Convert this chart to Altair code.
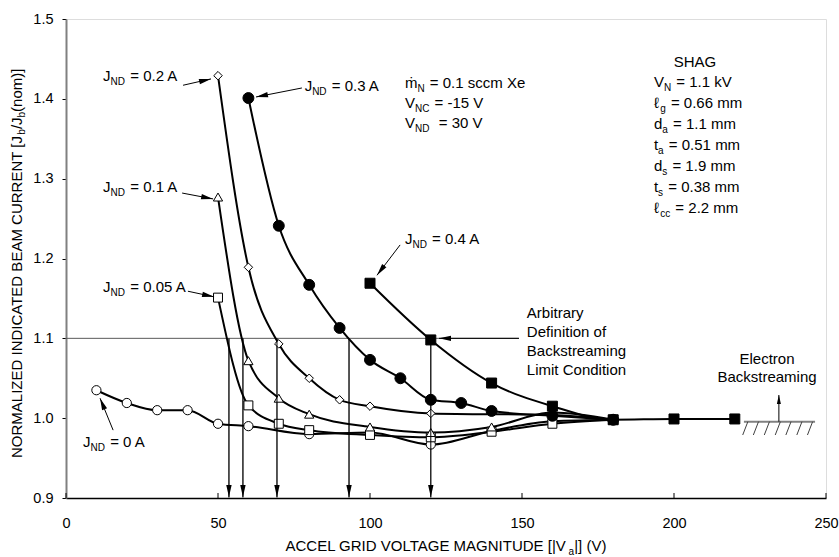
import math
import re
import altair as alt
import pandas as pd

# ---------------- data ----------------
X_TICKS = [0, 50, 100, 150, 200, 250]
Y_TICKS = [0.9, 1.0, 1.1, 1.2, 1.3, 1.4, 1.5]

x_j0 = [10, 20, 30, 40, 50, 60, 80, 100, 120, 140, 160, 180]
y_j0 = [1.035, 1.019, 1.010, 1.010, 0.993, 0.990, 0.980, 0.982, 0.967, 0.984, 0.996, 0.998]

x_j005 = [50, 60, 70, 80, 100, 120, 140, 160, 180]
y_j005 = [1.151, 1.016, 0.993, 0.985, 0.979, 0.976, 0.983, 0.993, 0.998]

x_j01 = [50, 60, 70, 80, 100, 120, 140, 160, 180]
y_j01 = [1.277, 1.072, 1.025, 1.005, 0.989, 0.982, 0.989, 1.007, 0.998]

x_j02 = [50, 60, 70, 80, 90, 100, 120, 160, 180]
y_j02 = [1.429, 1.189, 1.093, 1.050, 1.023, 1.015, 1.006, 1.004, 0.998]

x_j03 = [60, 70, 80, 90, 100, 110, 120, 130, 140, 160, 180]
y_j03 = [1.401, 1.241, 1.167, 1.113, 1.073, 1.050, 1.023, 1.019, 1.009, 1.003, 0.998]

x_j04 = [100, 120, 140, 160, 180, 200, 220]
y_j04 = [1.169, 1.098, 1.044, 1.015, 0.998, 0.999, 0.999]

limit_level = 1.1
limit_crossings = [53.6, 58.2, 69.4, 93.1, 120]

# ---------------- geometry helpers ----------------
W, H = 760, 479
XD = [0, 250]
YD = [0.9, 1.5]
SX = W / (XD[1] - XD[0])
SY = H / (YD[1] - YD[0])
FONT = "Liberation Sans, Arial, sans-serif"
FS, SUB, SUBDY = 15, 10, 4

CW = {' ': 278, '=': 584, '.': 278, '-': 333, '[': 278, ']': 278, '(': 333, ')': 333,
      '|': 260, '/': 278, 'ṁ': 833, 'ℓ': 417}
for c in '0123456789':
    CW[c] = 556
CW.update(dict(A=667, B=667, C=722, D=722, E=667, F=611, G=778, H=722, I=278, J=500, K=667,
               L=556, M=833, N=722, O=778, P=667, Q=778, R=722, S=667, T=611, U=722, V=667,
               W=944, X=667, Y=667, Z=611))
CW.update(dict(a=556, b=556, c=500, d=556, e=556, f=278, g=556, h=556, i=222, j=222, k=500,
               l=222, m=833, n=556, o=556, p=556, q=556, r=333, s=500, t=278, u=556, v=500,
               w=722, x=500, y=500, z=500))


def tw(s, fs):
    return sum(CW.get(c, 556) for c in s) * fs / 1000.0


def parse(markup):
    segs = []
    pos = 0
    for m in re.finditer(r"_\{([^}]*)\}", markup):
        if m.start() > pos:
            segs.append((markup[pos:m.start()], False))
        segs.append((m.group(1), True))
        pos = m.end()
    if pos < len(markup):
        segs.append((markup[pos:], False))
    return segs


def split_lead(t):
    stripped = t.lstrip(" ")
    return t[:len(t) - len(stripped)], stripped


text_rows = []


def rich(x0, y0, markup, align="left"):
    segs = parse(markup)
    widths = [tw(t, SUB if s else FS) for t, s in segs]
    total = sum(widths)
    off = 0 if align == "left" else (-total / 2 if align == "center" else -total)
    for (t, s), w in zip(segs, widths):
        fs = SUB if s else FS
        lead, body = split_lead(t)
        lw = tw(lead, fs) + (1.0 if lead else 0)
        text_rows.append(dict(x=x0 + (off + lw) / SX, y=y0 - (SUBDY / SY if s else 0),
                              t=body.rstrip(" "), fs=fs))
        off += w + (1.0 if lead else 0)


rot_rows = []


def rich_vertical(xb, yc, markup):
    segs = parse(markup)
    widths = [tw(t, SUB if s else FS) for t, s in segs]
    total = sum(widths)
    off = -total / 2
    for (t, s), w in zip(segs, widths):
        rot_rows.append(dict(x=xb + (3 / SX if s else 0), y=yc + off / SY,
                             t=t, fs=SUB if s else FS))
        off += w


arrow_shafts = []
arrow_heads = []


def arrow(x1, y1, x2, y2, size=144):
    arrow_shafts.append(dict(x=x1, y=y1, x2=x2, y2=y2))
    dx = (x2 - x1) * SX
    dy = -(y2 - y1) * SY
    ang = math.degrees(math.atan2(dx, -dy)) % 360
    arrow_heads.append(dict(x=x2, y=y2, ang=ang, size=size))


# ---------------- annotations ----------------
rich(12.2, 1.4219, "J_{ND} = 0.2 A")
rich(78.5, 1.4093, "J_{ND} = 0.3 A")
rich(12.2, 1.2828, "J_{ND} = 0.1 A")
rich(12.2, 1.1575, "J_{ND} = 0.05 A")
rich(5.6, 0.9634, "J_{ND} = 0 A")
rich(111.5, 1.2177, "J_{ND} = 0.4 A")

for i, line in enumerate(["ṁ_{N} = 0.1 sccm Xe", "V_{NC} = -15 V", "V_{ND}  = 30 V"]):
    rich(111.5, 1.4131 - i * 20 / SY, line)

rich(206.9, 1.4394, "SHAG", align="center")
for i, line in enumerate(["V_{N} = 1.1 kV", "ℓ_{g} = 0.66 mm", "d_{a} = 1.1 mm", "t_{a} = 0.51 mm",
                          "d_{s} = 1.9 mm", "t_{s} = 0.38 mm", "ℓ_{cc} = 2.2 mm"]):
    rich(193.4, 1.4143 - i * 21 / SY, line)

for i, line in enumerate(["Arbitrary", "Definition of", "Backstreaming", "Limit Condition"]):
    rich(151.6, 1.1254 - i * 18.9 / SY, line)

for i, line in enumerate(["Electron", "Backstreaming"]):
    rich(230.6, 1.0674 - i * 18 / SY, line, align="center")

rich(72.2, 0.8336, "ACCEL GRID VOLTAGE MAGNITUDE [|V_{a}|] (V)")
rich_vertical(-14.47, 1.194, "NORMALIZED INDICATED BEAM CURRENT [J_{b}/J_{b}(nom)]")

# label arrows
arrow(38.5, 1.417, 47.7, 1.425)
arrow(77.6, 1.4136, 62.5, 1.4023)
arrow(38.2, 1.282, 48.4, 1.2746)
arrow(40.1, 1.159, 48.7, 1.152)
arrow(15.5, 0.985, 11.2, 1.025)
arrow(109.9, 1.217, 102.3, 1.179)
# limit-definition arrow (pointing left at the 0.4 A crossing)
arrow(149, limit_level, 122.7, limit_level)
# down arrows at the crossings
for xc in limit_crossings:
    arrow(xc, limit_level, xc, 0.9 + 1 / SY)
# electron backstreaming up arrow
arrow(234.5, 0.9956, 234.5, 1.029, size=81)

# ground hatch symbol
ground = [dict(x=223, y=0.9956, x2=246.4, y2=0.9956)]
hatches = []
for xt in [224.3, 227.8, 231.4, 235.0, 238.5, 242.1, 245.6]:
    hatches.append(dict(x=xt, y=0.9956, x2=xt - 1.7, y2=0.9789))

# ---------------- chart ----------------
xs = alt.Scale(domain=XD, nice=False, zero=False)
ys = alt.Scale(domain=YD, nice=False, zero=False)

x_axis = alt.Axis(values=X_TICKS, title="", ticks=False, grid=False, labelFont=FONT,
                  labelFontSize=14.5, labelColor="black", labelPadding=18,
                  domainColor="black", domainWidth=1.5, labelFlush=False)
y_axis = alt.Axis(values=Y_TICKS, title="", format=".1f", grid=False, labelFont=FONT,
                  labelFontSize=14.5, labelColor="black", labelPadding=9, tickSize=4,
                  tickColor="black", tickWidth=1, domainColor="#808080", domainWidth=2,
                  labelFlush=False)


def X(f="x"):
    return alt.X(f"{f}:Q", scale=xs, axis=x_axis)


def Y(f="y"):
    return alt.Y(f"{f}:Q", scale=ys, axis=y_axis)


series = [
    ("0 A", x_j0, y_j0, "circle", "white", 85),
    ("0.05 A", x_j005, y_j005, "square", "white", 80),
    ("0.1 A", x_j01, y_j01, "triangle-up", "white", 85),
    ("0.2 A", x_j02, y_j02, "diamond", "white", 72),
    ("0.3 A", x_j03, y_j03, "circle", "black", 120),
    ("0.4 A", x_j04, y_j04, "square", "black", 100),
]
rows = []
for name, xv, yv, shp, fill, size in series:
    for a, b in zip(xv, yv):
        rows.append(dict(x=a, y=b, s=name, shape=shp, fill=fill, size=size))
df = pd.DataFrame(rows)

lines = alt.Chart(df).mark_line(color="black", strokeWidth=2, interpolate="monotone").encode(
    x=X(), y=Y(), detail="s:N")

points = alt.Chart(df).mark_point(filled=True, stroke="black", strokeWidth=1, opacity=1).encode(
    x=X(), y=Y(),
    fill=alt.Fill("fill:N", scale=None),
    shape=alt.Shape("shape:N", scale=None),
    size=alt.Size("size:Q", scale=None),
)

limit_df = pd.DataFrame([dict(x=0, y=limit_level, x2=149, y2=limit_level)] +
                        [dict(x=xc, y=limit_level, x2=xc, y2=0.9) for xc in limit_crossings])
limit_rules = alt.Chart(limit_df).mark_rule(color="#5a5a5a", strokeWidth=1).encode(
    x=X(), y=Y(), x2="x2:Q", y2="y2:Q")

shafts = alt.Chart(pd.DataFrame(arrow_shafts)).mark_rule(color="black", strokeWidth=1).encode(
    x=X(), y=Y(), x2="x2:Q", y2="y2:Q")

ARROW = "M0,0L-0.45,2L0.45,2Z"
heads = alt.Chart(pd.DataFrame(arrow_heads)).mark_point(
    filled=True, color="black", strokeWidth=0, opacity=1, shape=ARROW).encode(
    x=X(), y=Y(), angle=alt.Angle("ang:Q", scale=None), size=alt.Size("size:Q", scale=None))

ground_line = alt.Chart(pd.DataFrame(ground)).mark_rule(color="#808080", strokeWidth=2).encode(
    x=X(), y=Y(), x2="x2:Q", y2="y2:Q")
hatch_lines = alt.Chart(pd.DataFrame(hatches)).mark_rule(color="#404040", strokeWidth=1).encode(
    x=X(), y=Y(), x2="x2:Q", y2="y2:Q")

tick_df = pd.DataFrame([dict(x=v, y=0.9, x2=v, y2=0.9 + 5 / SY) for v in X_TICKS])
xticks = alt.Chart(tick_df).mark_rule(color="black", strokeWidth=1).encode(
    x=X(), y=Y(), x2="x2:Q", y2="y2:Q")

texts = alt.Chart(pd.DataFrame(text_rows)).mark_text(
    align="left", baseline="alphabetic", font=FONT, color="black").encode(
    x=X(), y=Y(), text="t:N", size=alt.Size("fs:Q", scale=None))

rot_texts = alt.Chart(pd.DataFrame(rot_rows)).mark_text(
    align="left", baseline="alphabetic", font=FONT, color="black", angle=270).encode(
    x=X(), y=Y(), text="t:N", size=alt.Size("fs:Q", scale=None))

chart = alt.layer(
    limit_rules, ground_line, hatch_lines, lines, points, shafts, heads, xticks, texts, rot_texts
).properties(
    width=W, height=H,
    autosize=alt.AutoSizeParams(type="none"),
    padding={"left": 66, "top": 19, "right": 13, "bottom": 59},
).configure_view(strokeWidth=0).configure(background="white")

chart.save("out.html", embed_options={"renderer": "svg", "actions": False})
